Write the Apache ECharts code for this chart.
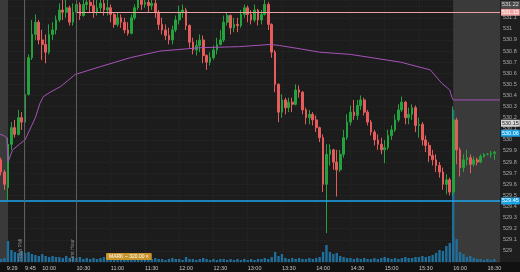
<!DOCTYPE html>
<html><head><meta charset="utf-8">
<script src="https://cdn.jsdelivr.net/npm/echarts@6/dist/echarts.min.js"></script>
<style>html,body{margin:0;padding:0;background:#1e1e1e;}#c{width:520px;height:272px;}</style>
</head><body><div id="c"></div>
<script>
// ---- data ----
const barTimes = ['9:24','9:27',
'9:30','9:33','9:36','9:39','9:42','9:45','9:48','9:51','9:54','9:57',
'10:00','10:03','10:06','10:09','10:12','10:15','10:18','10:21','10:24','10:27','10:30','10:33','10:36','10:39','10:42','10:45','10:48','10:51','10:54','10:57',
'11:00','11:03','11:06','11:09','11:12','11:15','11:18','11:21','11:24','11:27','11:30','11:33','11:36','11:39','11:42','11:45','11:48','11:51','11:54','11:57',
'12:00','12:03','12:06','12:09','12:12','12:15','12:18','12:21','12:24','12:27','12:30','12:33','12:36','12:39','12:42','12:45','12:48','12:51','12:54','12:57',
'13:00','13:03','13:06','13:09','13:12','13:15','13:18','13:21','13:24','13:27','13:30','13:33','13:36','13:39','13:42','13:45','13:48','13:51','13:54','13:57',
'14:00','14:03','14:06','14:09','14:12','14:15','14:18','14:21','14:24','14:27','14:30','14:33','14:36','14:39','14:42','14:45','14:48','14:51','14:54','14:57',
'15:00','15:03','15:06','15:09','15:12','15:15','15:18','15:21','15:24','15:27','15:30','15:33','15:36','15:39','15:42','15:45','15:48','15:51','15:54','15:57',
'16:00','16:03','16:06','16:09','16:12','16:15','16:18','16:21','16:24','16:27','16:30','16:33','16:36'];
const openP = [529.82,529.71,
529.57,529.96,530.11,530.05,530.20,530.16,530.41,530.74,530.95,531.06,
530.90,530.86,530.79,530.95,530.99,531.08,531.17,531.15,531.19,531.06,531.15,531.22,531.12,531.22,531.24,531.21,531.15,531.19,531.23,531.17,
531.19,531.13,531.04,531.10,531.06,530.99,530.96,531.10,531.19,531.26,531.22,531.24,531.21,531.23,531.15,531.04,530.99,530.94,530.90,530.99,
531.08,531.15,531.17,531.03,530.88,530.81,530.85,530.90,530.76,530.70,530.74,530.81,530.86,530.90,531.06,531.12,531.01,531.04,531.03,531.13,
531.19,531.13,531.08,531.17,531.08,531.13,531.22,531.04,530.79,530.50,530.25,530.36,530.29,530.34,530.32,530.45,530.43,530.27,530.20,530.23,
530.18,530.11,530.02,529.60,529.87,529.91,529.80,529.73,529.87,530.02,530.16,530.25,530.22,530.31,530.36,530.25,530.16,530.07,530.00,529.96,
529.91,529.93,530.04,530.09,530.18,530.27,530.34,530.20,530.23,530.29,530.13,530.14,530.00,529.95,529.86,529.82,529.77,529.71,529.60,529.64,
529.53,530.18,529.91,529.75,529.82,529.84,529.78,529.82,529.80,529.85,529.87,529.87,529.88];
const highP = [529.84,529.73,
530.02,530.16,530.18,530.27,530.25,530.43,530.77,531.08,531.13,531.08,
530.99,530.95,531.04,531.06,531.12,531.23,531.26,531.29,531.21,531.23,531.30,531.24,531.31,531.33,531.30,531.26,531.29,531.33,531.26,531.28,
531.22,531.15,531.15,531.13,531.10,531.06,531.13,531.22,531.31,531.33,531.31,531.30,531.30,531.26,531.17,531.10,531.04,531.01,531.03,531.12,
531.21,531.22,531.19,531.04,530.92,530.90,530.95,530.94,530.77,530.79,530.85,530.92,530.99,531.12,531.15,531.13,531.10,531.10,531.17,531.22,
531.21,531.17,531.22,531.18,531.17,531.27,531.24,531.05,530.81,530.51,530.41,530.38,530.38,530.38,530.50,530.49,530.44,530.29,530.27,530.25,
530.22,530.12,530.05,529.96,529.96,529.92,529.91,529.91,530.09,530.23,530.31,530.36,530.36,530.40,530.38,530.27,530.18,530.09,530.05,530.02,
530.00,530.09,530.13,530.23,530.32,530.39,530.35,530.29,530.32,530.31,530.20,530.16,530.04,529.98,529.91,529.87,529.80,529.75,529.69,529.66,
530.30,530.20,529.93,529.87,529.91,529.87,529.85,529.84,529.87,529.88,529.88,529.90,529.90];
const lowP = [529.68,529.55,
529.46,529.91,530.02,530.04,530.09,530.14,530.40,530.72,530.90,530.86,
530.72,530.69,530.77,530.90,530.95,531.06,531.08,531.10,531.03,531.03,531.13,531.08,531.11,531.17,531.15,531.10,531.12,531.15,531.12,531.12,
531.06,531.01,531.02,531.01,530.96,530.94,530.95,531.08,531.17,531.17,531.19,531.15,531.17,531.10,530.99,530.95,530.90,530.86,530.86,530.97,
531.04,531.10,530.99,530.83,530.77,530.76,530.79,530.69,530.63,530.67,530.72,530.77,530.85,530.88,531.03,530.95,530.97,530.97,531.01,531.10,
531.06,531.04,531.06,531.03,531.04,531.12,530.99,530.74,530.43,530.16,530.20,530.23,530.25,530.25,530.31,530.38,530.23,530.14,530.14,530.13,
530.07,529.98,529.53,529.16,529.77,529.73,529.49,529.71,529.84,530.00,530.13,530.18,530.18,530.27,530.22,530.13,530.04,529.95,529.91,529.87,
529.79,529.91,530.00,530.07,530.16,530.25,530.14,530.14,530.18,530.07,530.02,529.95,529.89,529.80,529.77,529.71,529.66,529.55,529.51,529.50,
529.50,529.78,529.67,529.71,529.77,529.70,529.76,529.77,529.79,529.84,529.86,529.84,529.82];
const closeP = [529.71,529.60,
529.96,530.11,530.05,530.20,530.16,530.41,530.74,530.95,531.06,530.90,
530.86,530.79,530.95,530.99,531.08,531.17,531.15,531.19,531.06,531.15,531.22,531.12,531.22,531.24,531.21,531.15,531.19,531.23,531.17,531.19,
531.13,531.04,531.10,531.06,530.99,530.96,531.10,531.19,531.26,531.22,531.24,531.21,531.23,531.15,531.04,530.99,530.94,530.90,530.99,531.08,
531.15,531.17,531.03,530.88,530.81,530.85,530.90,530.76,530.70,530.74,530.81,530.86,530.90,531.06,531.12,531.01,531.04,531.03,531.13,531.19,
531.13,531.08,531.17,531.08,531.13,531.22,531.04,530.79,530.50,530.25,530.36,530.29,530.34,530.32,530.45,530.43,530.27,530.20,530.23,530.18,
530.11,530.02,529.60,529.87,529.91,529.80,529.73,529.87,530.02,530.16,530.25,530.22,530.31,530.36,530.25,530.16,530.07,530.00,529.96,529.91,
529.93,530.04,530.09,530.18,530.27,530.34,530.20,530.23,530.29,530.13,530.14,530.00,529.95,529.86,529.82,529.77,529.71,529.60,529.64,529.53,
530.18,529.91,529.75,529.82,529.84,529.78,529.82,529.80,529.85,529.87,529.87,529.88,529.89];
const volume = [30,40,
210,120,100,90,110,90,100,80,70,60,
80,60,50,60,50,50,40,60,40,50,40,50,30,40,30,40,30,40,50,30,
40,30,40,30,30,40,30,30,40,30,20,30,30,40,30,30,20,30,40,30,
30,20,50,30,30,20,30,40,30,20,30,20,30,30,20,30,20,30,20,30,
20,30,20,30,30,40,30,50,100,60,80,40,30,40,30,40,30,30,40,30,
40,50,100,170,100,80,90,60,50,40,40,30,40,30,40,30,30,40,30,40,
50,40,30,40,30,40,50,40,40,50,50,60,50,60,70,90,120,110,160,190,
1520,230,100,80,50,60,40,30,30,20,30,20,30];
const vwapTimes = ['9:23','9:26','9:29','9:30','9:34','9:40','9:45','9:49','9:54','9:58','10:01','10:07','10:16','10:29','10:51','11:17','11:43','12:18','12:53','13:20','13:28','13:46','14:03','14:30','15:14','15:40','15:50','15:57','15:59','16:00','16:41'];
const vwapValues = [530.05,530.04,530.02,529.80,529.91,529.96,530.00,530.09,530.20,530.33,530.39,530.43,530.48,530.59,530.66,530.74,530.80,530.83,530.84,530.86,530.85,530.82,530.79,530.77,530.70,530.63,530.51,530.45,530.38,530.36,530.36];
const xTickLabels = ['9:29','9:45','10:00','10:30','11:00','11:30','12:00','12:30','13:00','13:30','14:00','14:30','15:00','15:30','16:00','16:30'];
const viewStart = '9:23', viewEnd = '16:41', sessionOpen = '9:30', sessionClose = '16:00';
const eventTimes = ['9:44','10:30'];
const eventNames = ['Flash PMI','First Hour'];
const firstHourHigh = 531.15, firstHourEnd = '10:30';
const supportLevel = 529.45;
const priceTags = [531.22, 530.15, 530.06];
const markText = 'MARK ~ 320.00 \u00d7';

// ---- build ----
const toMin = s => { const [h, m] = s.split(':').map(Number); return h * 60 + m; };
const fromMin = v => Math.floor(v / 60) + ':' + String(Math.round(v % 60)).padStart(2, '0');
const font = 'Liberation Sans';
const xMin = toMin(viewStart), xMax = toMin(viewEnd);

const candles = barTimes.map((t, i) => [toMin(t), openP[i], closeP[i], lowP[i], highP[i]]);
const vols = barTimes.map((t, i) => [toMin(t), volume[i]]);
const vwap = vwapTimes.map((t, i) => [toMin(t), vwapValues[i]]);
const tickVals = xTickLabels.map(toMin);

const tagStyles = [
  {bg: '#4a4a4a', fg: '#dcdcdc'},
  {bg: '#d6d6d6', fg: '#222'},
  {bg: '#19a2e6', fg: '#fff'}
];
const tagLabel = (txt, bg, fg) => ({show: true, position: 'end', distance: 1, formatter: txt, backgroundColor: bg, color: fg,
  padding: [1, 1, 0, 1], fontSize: 5.5, fontFamily: font, opacity: 1});
const markLines = [];
markLines.push({yAxis: supportLevel, lineStyle: {color: '#1fa6ec', width: 1.6, type: 'solid'},
  label: tagLabel(supportLevel.toFixed(2), '#19a2e6', '#fff')});
markLines.push([{coord: [toMin(firstHourEnd), firstHourHigh], lineStyle: {color: '#e9a2a0', width: 1, type: 'solid'},
  label: tagLabel(firstHourHigh.toFixed(2), '#eea3a3', '#fff')},
  {coord: [xMax, firstHourHigh]}]);
priceTags.forEach((v, i) => markLines.push({yAxis: v, lineStyle: {color: 'rgba(0,0,0,0)', width: 0.1, type: 'solid'},
  label: tagLabel(v.toFixed(2), tagStyles[i].bg, tagStyles[i].fg)}));
eventTimes.forEach((t, i) => markLines.push({xAxis: toMin(t), lineStyle: {color: '#5e5e5e', width: 1, type: 'solid'},
  label: {show: true, position: 'insideStartTop', distance: 1, formatter: eventNames[i], color: '#8c8c8c', fontSize: 5, fontFamily: font}}));

const chart = echarts.init(document.getElementById('c'), null, {renderer: 'canvas'});
chart.setOption({
  animation: false,
  backgroundColor: '#1e1e1e',
  textStyle: {fontFamily: font},
  title: {text: markText, left: 106, top: 253, padding: [1, 3, 1, 3], backgroundColor: '#c8952b', borderRadius: 1,
    textStyle: {color: '#fff', fontSize: 5, fontWeight: 'normal', fontFamily: font}},
  graphic: [{type: 'rect', left: 0, bottom: 0, shape: {width: 520, height: 10}, style: {fill: '#111111'}, z: -10}],
  grid: {left: 0, right: 20, top: 0, bottom: 10, show: true, backgroundColor: '#1c1c1c', borderWidth: 0},
  xAxis: {type: 'value', min: xMin, max: xMax,
    axisLine: {show: false}, axisTick: {show: false, customValues: tickVals},
    splitLine: {show: true, lineStyle: {color: '#272727', width: 1, type: 'dotted'}},
    axisLabel: {customValues: tickVals, align: 'left', margin: 3, fontSize: 5.5, color: '#c4c4c4',
      formatter: (v, idx) => { const s = xTickLabels[tickVals.indexOf(v)] || fromMin(v); return idx === 0 ? '{b|' + s + '}' : s; },
      rich: {b: {backgroundColor: '#d4d4d4', color: '#111', padding: [1, 2, 0, 2], fontSize: 5.5}}}},
  yAxis: [
    {type: 'value', position: 'right', min: 528.9, max: 531.26, interval: 0.1, scale: true,
      axisLine: {show: false}, axisTick: {show: false},
      splitLine: {show: true, lineStyle: {color: '#272727', width: 1, type: 'dotted'}},
      axisLabel: {margin: 3, fontSize: 5.5, color: '#a9a9a9',
        formatter: v => (Math.abs(v * 10 - Math.round(v * 10)) < 1e-6 && v > 528.95) ? String(+v.toFixed(1)) : ''}},
    {type: 'value', min: 0, max: 2620, show: false, splitLine: {show: false}}
  ],
  series: [
    {type: 'bar', name: 'Volume', xAxisIndex: 0, yAxisIndex: 1, data: vols, barWidth: 2.4, z: 2,
      itemStyle: {color: '#1f6f9c'},
      markArea: {silent: true, itemStyle: {color: '#3a3a3a'},
        data: [[{xAxis: xMin}, {xAxis: toMin(sessionOpen)}], [{xAxis: toMin(sessionClose)}, {xAxis: xMax}]]}},
    {type: 'candlestick', name: 'Price', data: candles, encode: {x: 0, y: [1, 2, 3, 4]}, barWidth: 2.2, z: 3, clip: true,
      itemStyle: {color: '#24a23e', color0: '#e65b5b', borderColor: '#24a23e', borderColor0: '#e65b5b', borderWidth: 1},
      markLine: {silent: true, symbol: 'none', animation: false, data: markLines}},
    {type: 'line', name: 'VWAP', data: vwap, showSymbol: false, symbol: 'none', z: 4,
      lineStyle: {color: '#a653b9', width: 1}}
  ]
});
</script></body></html>
